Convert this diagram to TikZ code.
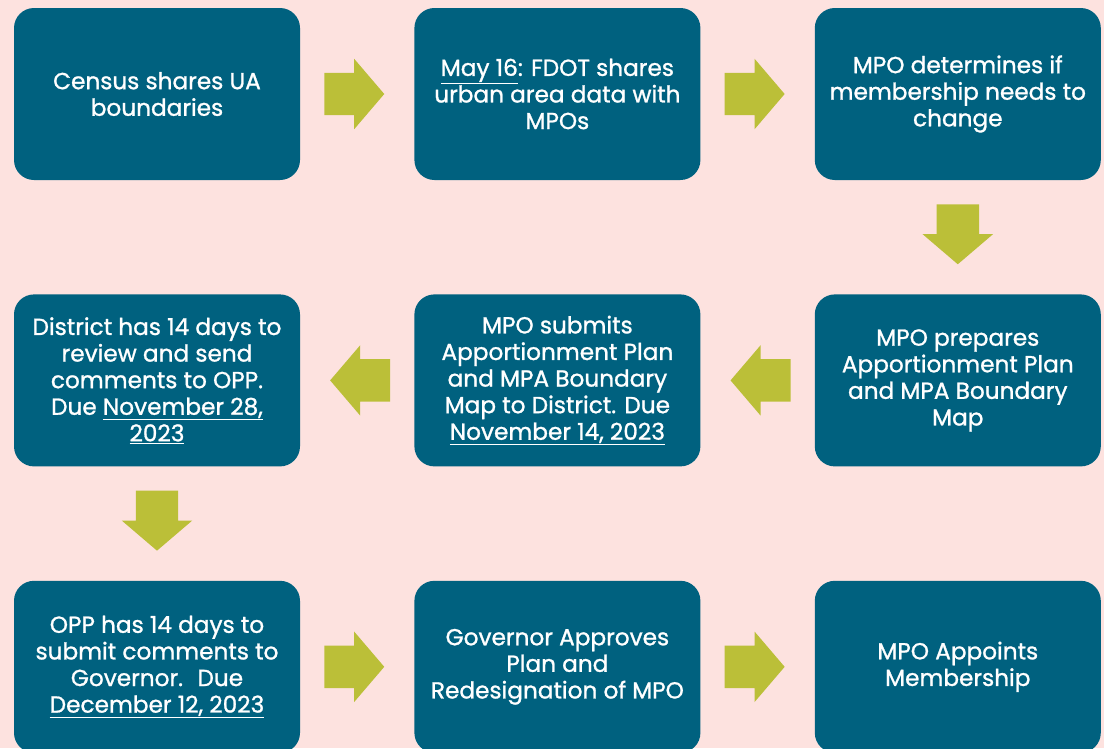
\documentclass[tikz,border=0pt]{standalone}
\usepackage{fontspec}
\setmainfont{Poppins}
\newfontfamily\stepfont{Poppins}[FakeBold=1.1]
\usepackage{tikz}
\usetikzlibrary{positioning,shapes.arrows,calc}
\definecolor{bgpink}{HTML}{FDE2DF}
\definecolor{boxteal}{HTML}{00617F}
\definecolor{arrowgreen}{HTML}{BBBF38}

\begin{document}
\begin{tikzpicture}[x=1pt,y=-1pt]
                % steps of the process, block arrows sit half way between two steps
                \tikzstyle{stepbox}=[rectangle, rounded corners=20pt, fill=boxteal, text=white, minimum width=286pt, minimum height=172pt, inner sep=0pt, align=center, font=\stepfont\fontsize{23.2}{26.6}\selectfont]
                \tikzstyle{blockarrow}=[single arrow, fill=arrowgreen, minimum height=60pt, single arrow head extend=14pt, single arrow tip angle=99, inner xsep=0pt, inner ysep=21pt, outer sep=0pt]
                \tikzstyle{rightarrow}=[blockarrow, xshift=-12pt]
                \tikzstyle{leftarrow}=[blockarrow, shape border rotate=180, xshift=12pt]
                \tikzstyle{downarrow}=[blockarrow, shape border rotate=270, inner xsep=21pt, inner ysep=0pt, yshift=12pt]
                \clip (0,0) rectangle (1104,748);
                \fill[bgpink] (0,0) rectangle (1104,748);
                \node[stepbox] (census) at (157,94) {Census shares UA\\boundaries};
                \node[stepbox, right=114pt of census] (fdot) {\underline{May 16}: FDOT shares\\urban area data with\\MPOs};
                \node[stepbox, right=114pt of fdot] (member) {MPO determines if\\membership needs to\\change};
                \node[stepbox, below=114pt of member] (prepare) {MPO prepares\\Apportionment Plan\\and MPA Boundary\\Map};
                \node[stepbox, left=114pt of prepare] (submit) {MPO submits\\Apportionment Plan\\and MPA Boundary\\Map to District. Due\\\underline{November 14, 2023}};
                \node[stepbox, left=114pt of submit] (district) {District has 14 days to\\review and send\\comments to OPP.\\Due \underline{November 28,}\\\underline{2023}};
                \node[stepbox, below=114pt of district] (opp) {OPP has 14 days to\\submit comments to\\Governor.~ Due\\\underline{December 12, 2023}};
                \node[stepbox, right=114pt of opp] (governor) {Governor Approves\\Plan and\\Redesignation of MPO};
                \node[stepbox, right=114pt of governor] (appoint) {MPO Appoints\\Membership};
                
                \node[rightarrow] (a1) at ($(census.east)!0.5!(fdot.west)$) {};
                \node[rightarrow] (a2) at ($(fdot.east)!0.5!(member.west)$) {};
                \node[downarrow] (a3) at ($(member.south)!0.5!(prepare.north)$) {};
                \node[leftarrow] (a4) at ($(prepare.west)!0.5!(submit.east)$) {};
                \node[leftarrow] (a5) at ($(submit.west)!0.5!(district.east)$) {};
                \node[downarrow] (a6) at ($(district.south)!0.5!(opp.north)$) {};
                \node[rightarrow] (a7) at ($(opp.east)!0.5!(governor.west)$) {};
                \node[rightarrow] (a8) at ($(governor.east)!0.5!(appoint.west)$) {};
        \end{tikzpicture}
\end{document}
